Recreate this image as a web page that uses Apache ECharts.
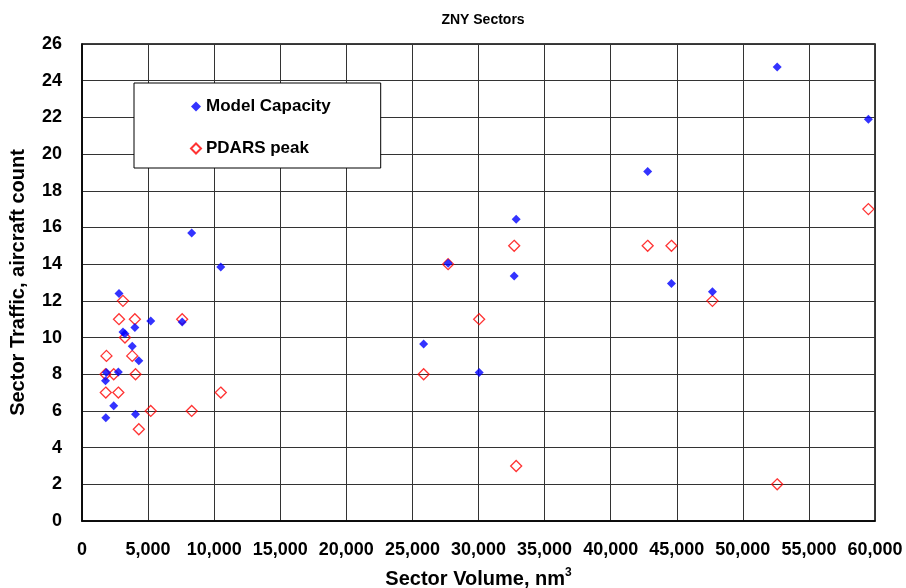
<!DOCTYPE html>
<html>
<head>
<meta charset="utf-8">
<title>ZNY Sectors</title>
<script src="https://cdn.jsdelivr.net/npm/echarts@6/dist/echarts.min.js"></script>
<style>
	html, body { margin: 0; padding: 0; background: #fff; }
	#scatter_zny { width: 906px; height: 588px; }
</style>
</head>
<body>
<div id="scatter_zny"></div>
<script>
// sector volume (nm3), one entry per sector
var volume = [1850, 1780, 1800, 2400, 2750, 2800, 3100, 3250, 3800, 4000, 4050, 4300, 5200, 7580, 8300, 10500,
	25850, 27700, 30050, 32700, 32850, 42800, 44600, 47700, 52600, 59500]
// model capacity, aircraft count
var capacity = [8.1, 7.65, 5.63, 6.28, 8.12, 12.4, 10.3, 10.2, 9.52, 10.55, 5.82, 8.74, 10.9, 10.85, 15.7, 13.85,
	9.65, 14.05, 8.1, 13.35, 16.45, 19.05, 12.95, 12.5, 24.75, 21.9]
// PDARS peak, aircraft count
var peak = [9, 8, 7, 8, 7, 11, 12, 10, 9, 11, 8, 5, 6, 11, 6, 7,
	8, 14, 11, 15, 3, 15, 15, 12, 2, 17]

var xTicks = [0, 60000, 5000]   // min, max, interval
var yTicks = [0, 26, 2]

var fontName = 'Arial, "Liberation Sans", sans-serif'

function pairs(xs, ys) {
	var out = []
	for (var i = 0; i < xs.length; i++) {
		out.push([xs[i], ys[i]])
	}
	return out
}

var chart = echarts.init(document.getElementById('scatter_zny'), null, {renderer: 'canvas'})

var option = {
	animation: false,
	backgroundColor: '#fff',
	title: {
		text: 'ZNY Sectors',
		left: 478,
		textAlign: 'center',
		top: 8,
		textStyle: {
			fontFamily: fontName,
			fontWeight: 'bold',
			fontSize: 14,
			color: '#000'
		}
	},
	grid: {
		left: 82,
		right: 31,
		top: 44,
		bottom: 67,
		outerBoundsMode: 'none',   // keep the plot box where it is
		show: true,
		borderColor: '#000',
		borderWidth: 1.5
	},
	legend: {
		orient: 'vertical',
		left: 134,
		top: 83,
		backgroundColor: '#fff',
		borderColor: '#000',
		borderWidth: 1,
		padding: [15, 50, 11, 56],
		itemGap: 25,
		itemWidth: 10,
		itemHeight: 10,
		textStyle: {
			fontFamily: fontName,
			fontWeight: 'bold',
			fontSize: 17,
			color: '#000'
		},
		data: ['Model Capacity', 'PDARS peak']
	},
	xAxis: {
		type: 'value',
		min: xTicks[0],
		max: xTicks[1],
		interval: xTicks[2],
		name: 'Sector Volume, nm{sup|3}',
		nameLocation: 'middle',
		nameGap: 46,
		nameTextStyle: {
			fontFamily: fontName,
			fontWeight: 'bold',
			fontSize: 20,
			color: '#000',
			rich: {
				sup: {
					fontFamily: fontName,
					fontWeight: 'bold',
					fontSize: 12,
					verticalAlign: 'bottom',
					padding: [0, 0, 12, 0],
					color: '#000'
				}
			}
		},
		axisLine: { lineStyle: { color: '#000', width: 1.5 } },
		axisTick: { show: false },
		axisLabel: {
			margin: 20,
			fontFamily: fontName,
			fontWeight: 'bold',
			fontSize: 18,
			color: '#000',
			formatter: function(v) {
				return String(v).replace(/\B(?=(\d{3})+(?!\d))/g, ',')
			}
		},
		splitLine: { show: true, lineStyle: { color: '#333', width: 1 } }
	},
	yAxis: {
		type: 'value',
		min: yTicks[0],
		max: yTicks[1],
		interval: yTicks[2],
		name: 'Sector Traffic, aircraft count',
		nameLocation: 'middle',
		nameGap: 54,
		nameTextStyle: {
			fontFamily: fontName,
			fontWeight: 'bold',
			fontSize: 20,
			color: '#000'
		},
		axisLine: { show: true, lineStyle: { color: '#000', width: 1.5 } },
		axisTick: { show: false },
		axisLabel: {
			margin: 20,
			fontFamily: fontName,
			fontWeight: 'bold',
			fontSize: 18,
			color: '#000'
		},
		splitLine: { show: true, lineStyle: { color: '#333', width: 1 } }
	},
	series: [
		{
			name: 'Model Capacity',
			type: 'scatter',
			symbol: 'diamond',
			symbolSize: 9,
			itemStyle: { color: '#0000ff' },
			data: pairs(volume, capacity),
			z: 3
		},
		{
			name: 'PDARS peak',
			type: 'scatter',
			symbol: 'diamond',
			symbolSize: 11,
			itemStyle: { color: 'rgba(255,255,255,0)', borderColor: '#ff0000', borderWidth: 1.3 },
			data: pairs(volume, peak),
			z: 2
		}
	]
}

chart.setOption(option)
</script>
</body>
</html>
